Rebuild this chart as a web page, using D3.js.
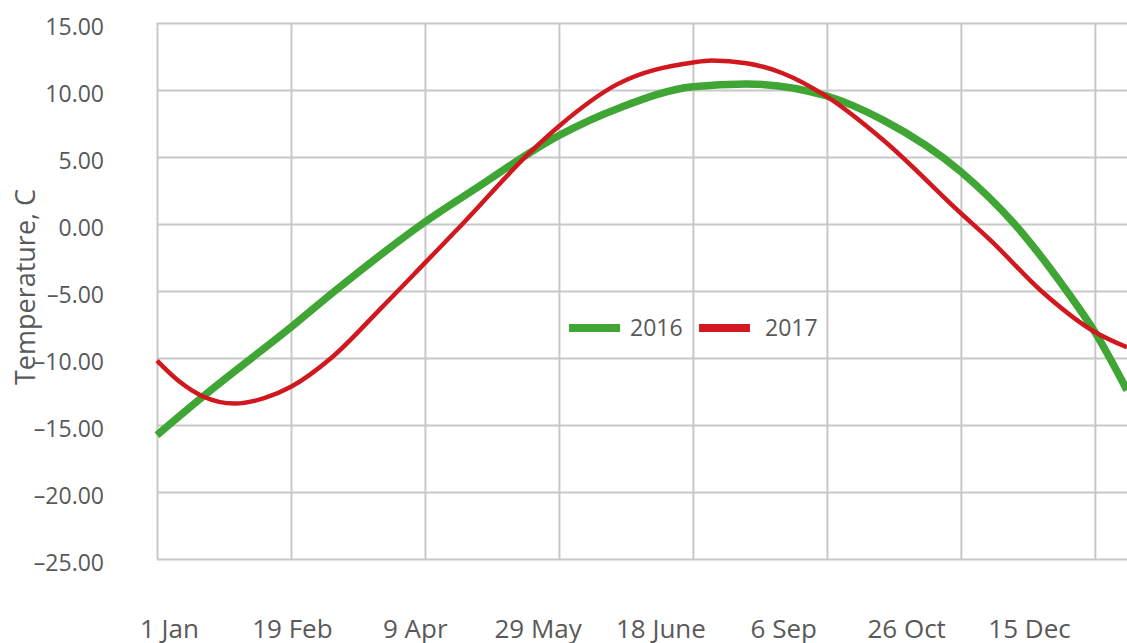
<!DOCTYPE html>
<html>
<head>
<meta charset="utf-8">
<script src="https://cdn.jsdelivr.net/npm/d3@7"></script>
<style>
    body { margin: 0; background: #ffffff; }
    text { font-family: "Open Sans", "Noto Sans", sans-serif; fill: #595959; }
    .grid line { stroke: #c8c8c8; stroke-width: 2; }
</style>
</head>
<body>
<div id="chart"></div>
<script>

// Day of year for each reading, and temperatures (C)
const days2016 = [0, 17, 50, 67, 100, 122, 139, 150, 173, 200, 220, 250, 271, 300, 320, 339.5, 350, 362];
const temps2016 = [-15.75, -12.9, -7.7, -4.9, 0.15, 3.05, 5.3, 6.6, 8.7, 10.25, 10.45, 9.55, 7.75, 3.9, 0.0, -5.0, -8.06, -12.4];

const days2017 = [0, 8, 17, 29, 40, 50, 65, 84, 100, 114, 139, 150, 171.5, 200, 207, 220, 233.5, 250, 271, 300, 311, 330, 350, 362];
const temps2017 = [-10.2, -11.7, -12.85, -13.4, -13.0, -12.15, -10.0, -6.2, -2.9, 0.0, 5.3, 7.3, 10.4, 12.05, 12.2, 12.0, 11.25, 9.5, 6.27, 0.8, -1.2, -5.0, -8.06, -9.2];

const seriesNames = ["2016", "2017"];
const seriesColors = ["#3fa535", "#d0181e"];

const yTicks = [15, 10, 5, 0, -5, -10, -15, -20, -25];
const gridDays = [0, 50, 100, 150, 200, 250, 300, 350];
const dateLabels = ["1 Jan", "19 Feb", "9 Apr", "29 May", "18 June", "6 Sep", "26 Oct", "15 Dec"];

class TempChart {

    constructor() {
        this.width = 1127;
        this.height = 643;
        this.left = 157;
        this.top = 23;
        this.bottom = 559;

        this.svg = d3.select("#chart")
            .append("svg")
                .attr("width", this.width)
                .attr("height", this.height);

        this.x = d3.scaleLinear()
            .domain([0, 362])
            .range([this.left, this.width]);
        this.y = d3.scaleLinear()
            .domain([-25, 15])
            .range([this.bottom, this.top]);

        this.drawGrid();
        this.drawLabels();
        this.drawLines();
        this.drawLegend();
    }

    drawGrid() {
        const fmt = d => d3.format(".2f")(d).replace("\u2212", "\u2013").replace("-", "\u2013");

        // horizontal grid + y labels
        const yAxis = this.svg.append("g")
            .attr("class", "grid")
            .attr("transform", `translate(${this.left},0)`)
            .call(d3.axisLeft(this.y)
                .tickValues(yTicks)
                .tickSize(-(this.width - this.left))
                .tickPadding(53)
                .tickFormat(fmt));
        yAxis.select(".domain").remove();
        yAxis.selectAll("text")
            .attr("dy", "0.48em")
            .style("font-size", "23px");

        // vertical grid
        const xAxis = this.svg.append("g")
            .attr("class", "grid")
            .attr("transform", `translate(0,${this.bottom})`)
            .call(d3.axisBottom(this.x)
                .tickValues(gridDays)
                .tickSize(-(this.bottom - this.top))
                .tickFormat(""));
        xAxis.select(".domain").remove();
    }

    drawLabels() {
        const xLabels = d3.scalePoint()
            .domain(dateLabels)
            .range([169, 1029]);

        const labelAxis = this.svg.append("g")
            .attr("transform", "translate(0,618)")
            .call(d3.axisBottom(xLabels).tickSize(0).tickPadding(0));
        labelAxis.select(".domain").remove();
        labelAxis.selectAll("text")
            .attr("dy", 0)
            .attr("y", 20)
            .style("font-size", "26px");

        this.svg.append("text")
            .attr("transform", `translate(35,${(this.top + this.bottom) / 2 - 4}) rotate(-90)`)
            .attr("text-anchor", "middle")
            .style("font-size", "27px")
            .text("Temperature, C");
    }

    drawLines() {
        const line = d3.line()
            .x(d => this.x(d[0]))
            .y(d => this.y(d[1]))
            .curve(d3.curveMonotoneX);

        const data2016 = days2016.map((d, i) => [d, temps2016[i]]);
        const data2017 = days2017.map((d, i) => [d, temps2017[i]]);

        this.svg.append("path")
            .datum(data2016)
            .attr("fill", "none")
            .attr("stroke", seriesColors[0])
            .attr("stroke-width", 7.5)
            .attr("d", line);

        this.svg.append("path")
            .datum(data2017)
            .attr("fill", "none")
            .attr("stroke", seriesColors[1])
            .attr("stroke-width", 4.5)
            .attr("d", line);
    }

    drawLegend() {
        const legend = this.svg.append("g").attr("transform", "translate(569,328)");
        const item = legend.selectAll("g")
            .data(seriesNames)
            .enter()
            .append("g")
                .attr("transform", (d, i) => `translate(${i * 130},0)`);

        item.append("line")
            .attr("x1", 0)
            .attr("x2", 51)
            .attr("stroke", (d, i) => seriesColors[i])
            .attr("stroke-width", 8);

        item.append("text")
            .attr("x", (d, i) => i == 0 ? 61 : 66)
            .attr("y", 8)
            .style("font-size", "23px")
            .text(d => d);
    }
}

new TempChart();
</script>
</body>
</html>
